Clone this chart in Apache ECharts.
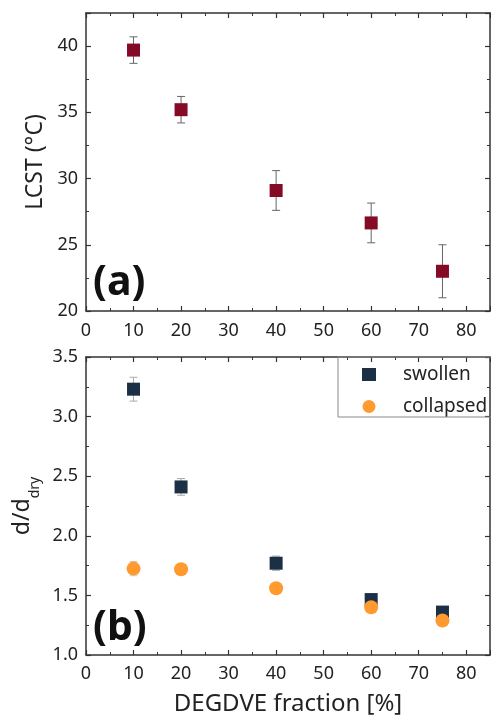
<!DOCTYPE html>
<html>
<head>
<meta charset="utf-8">
<script src="https://cdn.jsdelivr.net/npm/echarts@6/dist/echarts.min.js"></script>
<style>
html,body{margin:0;padding:0;background:#fff;}
#chart{width:491px;height:715px;}
</style>
</head>
<body>
<div id="chart"></div>
<script>
// data
var fraction = [10, 20, 40, 60, 75];
var lcst = [39.7, 35.2, 29.1, 26.65, 23.0];
var lcstErr = [1.0, 1.0, 1.5, 1.5, 2.0];
var swollen = [3.23, 2.41, 1.77, 1.465, 1.36];
var swollenErr = [0.1, 0.07, 0.06, 0.03, 0.03];
var collapsed = [1.725, 1.72, 1.56, 1.40, 1.29];
var collapsedErr = [0.06, 0.03, 0.03, 0.02, 0.02];

var font = 'Noto Sans';
var axisCol = '#333';

function pts(ys, errs){
	var out = [];
	for (var i = 0; i < fraction.length; i++) {
		out.push(errs ? [fraction[i], ys[i], errs[i]] : [fraction[i], ys[i]]);
	}
	return out;
}

function errBar(color){
	return function(params, api){
		var x = api.value(0), y = api.value(1), e = api.value(2);
		var t = api.coord([x, y + e]), b = api.coord([x, y - e]);
		var w = 4;
		var st = {stroke: color, lineWidth: 1};
		return {type: 'group', children: [
			{type: 'line', shape: {x1: t[0], y1: t[1], x2: b[0], y2: b[1]}, style: st},
			{type: 'line', shape: {x1: t[0]-w, y1: t[1], x2: t[0]+w, y2: t[1]}, style: st},
			{type: 'line', shape: {x1: b[0]-w, y1: b[1], x2: b[0]+w, y2: b[1]}, style: st}
		]};
	};
}

function xAx(grid, pos, labels, name, margin){
	return {
		type: 'value', gridIndex: grid, position: pos, min: 0, max: 85, interval: 10,
		axisLine: {show: true, onZero: false, lineStyle: {color: axisCol, width: 1.5}},
		axisTick: {show: true, inside: true, length: 5, lineStyle: {color: axisCol, width: 1.2}},
		minorTick: {show: true, splitNumber: 2, length: 3, lineStyle: {color: axisCol, width: 1}},
		splitLine: {show: false},
		axisLabel: {show: labels, showMaxLabel: false, fontSize: 18, color: '#222', fontFamily: font, margin: margin || 10},
		name: name || '', nameLocation: 'middle', nameGap: 37,
		nameTextStyle: {fontSize: 24, color: '#222', fontFamily: font}
	};
}

function yAx(grid, pos, labels, min, max, itv, fmt, name, gap){
	return {
		type: 'value', gridIndex: grid, position: pos, min: min, max: max, interval: itv,
		axisLine: {show: true, onZero: false, lineStyle: {color: axisCol, width: 1.5}},
		axisTick: {show: true, inside: true, length: 5, lineStyle: {color: axisCol, width: 1.2}},
		minorTick: {show: true, splitNumber: 2, length: 3, lineStyle: {color: axisCol, width: 1}},
		splitLine: {show: false},
		axisLabel: {show: labels, showMaxLabel: max === 3.5, fontSize: 18, color: '#222', fontFamily: font, margin: 8, formatter: fmt},
		name: name || '', nameLocation: 'middle', nameGap: gap || 40,
		nameTextStyle: {fontSize: 23, color: '#222', fontFamily: font,
			rich: {
				m: {fontSize: 23, color: '#222', fontFamily: font, lineHeight: 38},
				s: {fontSize: 14, color: '#222', fontFamily: font, lineHeight: 38, verticalAlign: 'bottom'}
			}
		}
	};
}

var chart = echarts.init(document.getElementById('chart'));
var option = {
	backgroundColor: '#fff',
	animation: false,
	textStyle: {fontFamily: font},
	title: [
		{text: '(a)', left: 88, top: 258, textStyle: {fontSize: 41, fontWeight: 'bold', color: '#111', fontFamily: font}},
		{text: '(b)', left: 88, top: 603, textStyle: {fontSize: 41, fontWeight: 'bold', color: '#111', fontFamily: font}}
	],
	graphic: [
		{type: 'rect', shape: {x: 338, y: 357, width: 200, height: 60}, style: {fill: 'none', stroke: '#888', lineWidth: 1}, z: 5}
	],
	grid: [
		{left: 86, top: 13, width: 404, height: 298, outerBoundsMode: 'none'},
		{left: 86, top: 357, width: 404, height: 298, outerBoundsMode: 'none'}
	],
	legend: {
		data: ['swollen', 'collapsed'],
		orient: 'vertical', left: 338, top: 357,
		padding: [8, 0, 6, 24],
		itemWidth: 14, itemHeight: 13, itemGap: 13,
		textStyle: {fontSize: 19, color: '#222', fontFamily: font, padding: [0, 0, 0, 22]}
	},
	xAxis: [
		xAx(0, 'bottom', true, '', 11),
		xAx(0, 'top', false),
		xAx(1, 'bottom', true, 'DEGDVE fraction [%]'),
		xAx(1, 'top', false)
	],
	yAxis: [
		yAx(0, 'left', true, 20, 42.5, 5, null, 'LCST (°C)', 38),
		yAx(0, 'right', false, 20, 42.5, 5),
		yAx(1, 'left', true, 1, 3.5, 0.5, function(v){ return v.toFixed(1); }, '{m|d/d}{s|dry}', 44),
		yAx(1, 'right', false, 1, 3.5, 0.5)
	],
	series: [
		{type: 'custom', xAxisIndex: 0, yAxisIndex: 0, renderItem: errBar('#666'), data: pts(lcst, lcstErr), z: 1, silent: true},
		{type: 'scatter', name: 'LCST', xAxisIndex: 0, yAxisIndex: 0, symbol: 'rect', symbolSize: 13,
			itemStyle: {color: '#840A25', opacity: 1}, data: pts(lcst), z: 2},
		{type: 'custom', xAxisIndex: 2, yAxisIndex: 2, renderItem: errBar('#aaa'), data: pts(swollen, swollenErr), z: 1, silent: true},
		{type: 'scatter', name: 'swollen', xAxisIndex: 2, yAxisIndex: 2, symbol: 'rect', symbolSize: 13,
			itemStyle: {color: '#1B2F45', opacity: 1}, data: pts(swollen), z: 2},
		{type: 'custom', xAxisIndex: 2, yAxisIndex: 2, renderItem: errBar('#ccc'), data: pts(collapsed, collapsedErr), z: 3, silent: true},
		{type: 'scatter', name: 'collapsed', xAxisIndex: 2, yAxisIndex: 2, symbol: 'circle', symbolSize: 14,
			itemStyle: {color: '#FF9A2E', opacity: 1}, data: pts(collapsed), z: 4}
	]
};
chart.setOption(option);
</script>
</body>
</html>
